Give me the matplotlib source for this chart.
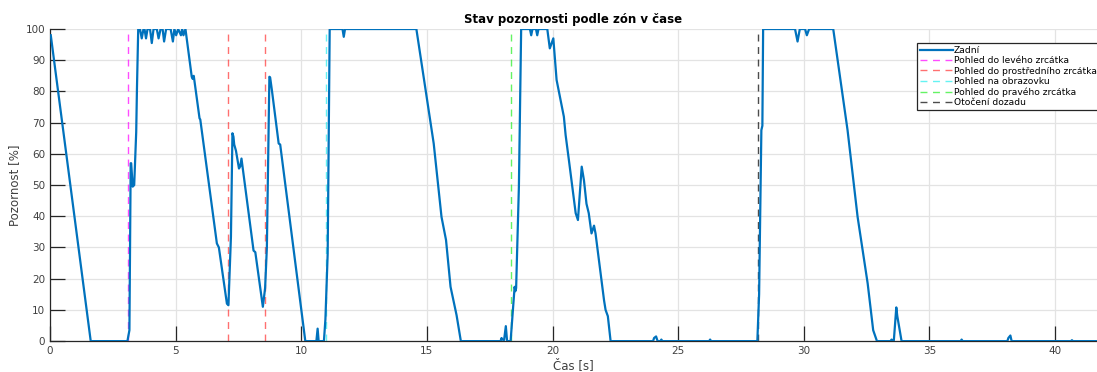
import matplotlib
matplotlib.use("Agg")
import matplotlib.pyplot as plt

# attention curve (time [s], value [%])
t = [0.03, 1.62, 3.08, 3.16, 3.21, 3.23, 3.29, 3.35, 3.43, 3.46, 3.51,
     3.58, 3.65, 3.72, 3.76, 3.82, 3.88, 3.98, 4.05, 4.12, 4.25, 4.32, 4.40,
     4.48, 4.54, 4.62, 4.80, 4.89, 4.95, 5.02, 5.10, 5.21, 5.26, 5.31, 5.39,
     5.64, 5.68, 5.72, 5.95, 5.98, 6.64, 6.72, 7.04, 7.10,
     7.20, 7.26, 7.30, 7.33, 7.40, 7.52, 7.57, 7.62, 7.66, 8.10, 8.17, 8.47,
     8.56, 8.63, 8.69, 8.73, 8.76, 8.83, 9.10, 9.16, 10.16,
     10.60, 10.65, 10.69, 10.90, 10.96, 11.05, 11.13, 11.64, 11.69, 11.74,
     14.58, 15.00, 15.27, 15.58, 15.76, 15.94, 16.18, 16.35,
     17.93, 17.97, 18.00, 18.07, 18.14, 18.19, 18.33, 18.42, 18.49, 18.52, 18.55,
     18.66, 18.75, 19.10, 19.15, 19.20, 19.34, 19.39, 19.44, 19.79, 19.89, 20.03,
     20.16, 20.45, 20.52, 20.65, 20.92, 21.01, 21.16, 21.25, 21.35, 21.44, 21.55,
     21.65, 21.71, 22.05, 22.11, 22.20, 22.31,
     24.00, 24.04, 24.12, 24.18, 24.29, 24.33, 24.37, 26.23, 26.27, 26.31,
     28.15, 28.22, 28.31, 28.35, 28.38, 29.65, 29.75, 29.84, 30.05, 30.12, 30.21,
     31.17, 31.74, 32.14, 32.54, 32.76, 32.91, 33.45, 33.49, 33.58, 33.68, 33.72,
     33.89, 36.24, 36.28, 36.32, 38.10, 38.14, 38.22, 38.27, 40.63, 40.67, 40.71,
     41.7]
v = [98, 0, 0, 3.5, 57, 57, 49.5, 50, 67, 81, 100,
     100, 97, 100, 100, 97, 100, 100, 95.5, 100, 100, 97, 100,
     100, 96, 100, 100, 96, 100, 98, 100, 98, 100, 98, 100,
     84.7, 84, 85, 71.4, 71, 31.3, 30, 12, 11.5,
     33.4, 66.6, 65.5, 63, 61, 55.3, 56, 58.5, 56, 29, 28.5, 11,
     17, 30, 63, 84.7, 84.5, 80.4, 63.3, 63, 0,
     0, 4, 0, 0, 7, 28, 100, 100, 97.5, 100,
     100, 77.8, 63.3, 39.8, 32.4, 17.4, 8.3, 0,
     0, 1, 0.5, 0.3, 4.8, 0, 0, 10, 17.4, 16, 17,
     49.5, 100, 100, 98, 100, 100, 98, 100, 100, 93.8, 97,
     83.7, 71.9, 66, 58, 41, 38.8, 55.9, 51.5, 44, 41, 34.5,
     37, 34.5, 13, 10, 8, 0,
     0, 1, 1.5, 0, 0, 0.5, 0, 0, 0.5, 0,
     0, 15, 67.6, 69, 100, 100, 96, 100, 100, 98, 100,
     100, 67.6, 39.8, 18.5, 3.5, 0, 0, 0.5, 0, 10.8, 8,
     0, 0, 0.5, 0, 0, 1, 1.8, 0, 0, 0.3, 0,
     0]

# zone events: legend label, colour, times [s]
zone_labels = ["Pohled do levého zrcátka", "Pohled do prostředního zrcátka",
               "Pohled na obrazovku", "Pohled do pravého zrcátka", "Otočení dozadu"]
zone_colors = ["#ff00ff", "#ff3333", "#22eeee", "#22ee22", "#000000"]
zone_times = [[3.12], [7.08, 8.54], [11.0], [18.33], [28.18]]

fig = plt.figure(figsize=(10.97, 3.72), dpi=100)
ax = fig.add_axes([0.0456, 0.083, 0.954, 0.839])

ax.plot(t, v, color="#0072BD", lw=1.6, label="Zadní", zorder=3)
for lab, col, times in zip(zone_labels, zone_colors, zone_times):
    for i, x in enumerate(times):
        ax.axvline(x, color=col, ls=(0, (5, 4)), lw=1.0, alpha=0.7,
                   label=lab if i == 0 else None, zorder=2)

ax.set_xlim(0, 41.65)
ax.set_ylim(0, 100)
ax.set_xticks(range(0, 45, 5))
ax.set_yticks(range(0, 101, 10))
ax.grid(True, color="#e3e3e3", lw=0.9)
ax.set_axisbelow(True)
for s in ["top", "right"]:
    ax.spines[s].set_visible(False)
for s in ["left", "bottom"]:
    ax.spines[s].set_color("#262626")
    ax.spines[s].set_linewidth(0.9)
ax.tick_params(direction="in", length=11, width=0.9, color="#262626",
               labelsize=7.5, labelcolor="#404040")

ax.set_title("Stav pozornosti podle zón v čase", fontsize=8.5, fontweight="bold", pad=4)
ax.set_xlabel("Čas [s]", fontsize=8.5, color="#404040", labelpad=2)
ax.set_ylabel("Pozornost [%]", fontsize=8.5, color="#404040", labelpad=3)

leg = ax.legend(loc="upper right", bbox_to_anchor=(1.003, 0.955), fontsize=6.6,
                fancybox=False, framealpha=1, edgecolor="#262626",
                handlelength=3.6, handletextpad=0.1, borderpad=0.3,
                labelspacing=0.15, borderaxespad=0)
leg.get_frame().set_linewidth(0.9)

fig.savefig("out.png", dpi=100)
